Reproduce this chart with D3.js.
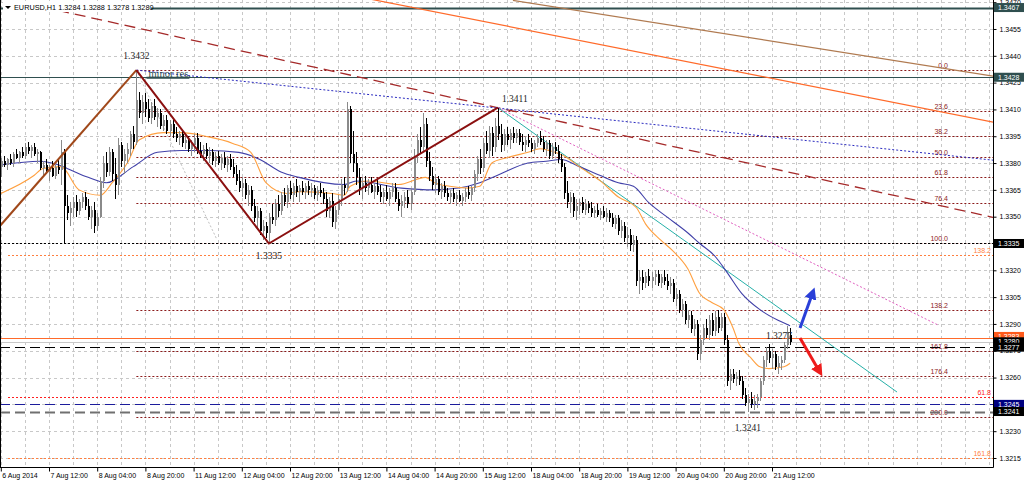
<!DOCTYPE html>
<html><head><meta charset="utf-8">
<script src="https://cdn.jsdelivr.net/npm/d3@7"></script>
<style>body{margin:0;background:#fff;overflow:hidden}svg{display:block}</style>
</head><body>
<svg id="c" width="1024" height="482"></svg>
<script>
// ---------------- DATA ----------------
const headerText = "EURUSD,H1  1.3284 1.3288 1.3278 1.3280";
const pipBase = 1.3; // candle values are pips above 1.3000
const xTickBars = [0,16,32,48,64,80,96,112,128,144,160,176,192,208,224,240,256];
const xTickLabels = ["6 Aug 2014","7 Aug 12:00","8 Aug 04:00","8 Aug 20:00","11 Aug 12:00","12 Aug 04:00","12 Aug 20:00","13 Aug 12:00","14 Aug 04:00","14 Aug 20:00","15 Aug 12:00","18 Aug 04:00","18 Aug 20:00","19 Aug 12:00","20 Aug 04:00","20 Aug 20:00","21 Aug 12:00"];
const yTicks = [1.3215,1.3230,1.3245,1.3260,1.3275,1.3290,1.3305,1.3320,1.3335,1.3350,1.3365,1.3380,1.3395,1.3410,1.3425,1.3440,1.3455,1.3470];
// [open, high, low, close] in pips, hourly bars from 6 Aug 20:00
const candles = [
[378,383,372,381],[381,384,378,379],[379,383,376,382],[382,385,379,380],[380,386,378,385],[385,388,382,383],[383,387,380,386],[386,389,383,384],[384,391,382,389],[389,392,385,387],
[387,390,383,389],[389,391,384,385],[385,388,380,386],[386,387,376,377],[377,381,372,379],[379,382,374,375],[375,379,370,377],[377,381,372,373],[373,379,371,378],[378,382,374,376],
[376,393,368,386],[386,388,335,356],[356,362,348,352],[352,358,345,355],[355,361,350,358],[358,362,350,353],[353,360,351,358],[358,363,355,361],[361,364,354,356],[356,360,348,350],
[350,356,343,354],[354,358,341,345],[345,352,342,350],[350,372,349,370],[370,384,366,380],[380,386,372,375],[375,389,373,386],[386,388,370,374],[374,383,360,368],[368,394,362,390],
[390,392,378,381],[381,388,374,385],[385,391,380,388],[388,398,384,396],[396,401,388,392],[392,432,390,415],[415,420,405,408],[408,418,402,414],[414,419,406,410],[410,416,403,405],
[405,414,402,412],[412,416,404,406],[406,411,400,408],[408,410,399,401],[401,407,398,404],[404,407,396,398],[398,404,395,402],[402,404,394,396],[396,400,392,394],[394,398,390,396],
[396,398,389,391],[391,396,388,393],[393,395,386,388],[388,393,384,390],[390,396,386,394],[394,397,385,387],[387,392,383,385],[385,390,381,388],[388,391,382,384],[384,389,380,386],
[386,388,379,381],[381,386,378,384],[384,387,379,380],[380,385,376,383],[383,386,377,379],[379,384,375,382],[382,385,376,378],[378,382,372,374],[374,379,368,370],[370,376,364,366],
[366,372,361,369],[369,371,360,362],[362,368,356,365],[365,367,353,356],[356,360,347,349],[349,356,343,353],[353,355,340,342],[342,348,337,345],[345,347,338,341],[341,352,335,350],
[350,357,346,348],[348,360,345,357],[357,362,350,353],[353,364,351,362],[362,366,356,358],[358,368,355,366],[366,370,360,362],[362,369,358,367],[367,371,361,364],[364,368,358,366],
[366,370,362,364],[364,369,360,367],[367,370,362,365],[365,369,361,366],[366,368,360,362],[362,367,359,365],[365,369,361,363],[363,366,357,360],[360,364,350,353],[353,361,349,359],
[359,363,344,347],[347,356,343,354],[354,362,351,360],[360,371,356,368],[368,372,362,366],[366,414,364,410],[410,412,380,385],[385,398,375,380],[380,386,368,372],[372,377,362,366],
[366,372,360,369],[369,373,364,366],[366,371,362,368],[368,372,363,364],[364,369,360,367],[367,371,362,364],[364,368,358,361],[361,366,357,364],[364,368,359,360],[360,366,356,364],
[364,369,361,366],[366,369,358,360],[360,364,353,356],[356,362,350,359],[359,364,355,361],[361,365,355,357],[357,366,354,364],[364,388,362,384],[384,396,380,393],[393,400,385,389],
[389,408,386,402],[402,405,378,381],[381,386,370,373],[373,378,365,368],[368,374,363,371],[371,373,362,364],[364,369,360,367],[367,370,361,363],[363,366,359,361],[361,365,357,363],
[363,366,358,360],[360,364,356,362],[362,365,358,359],[359,363,356,361],[361,366,358,364],[364,367,360,362],[362,367,359,366],[366,376,364,374],[374,384,370,382],[382,388,374,377],
[377,394,375,391],[391,398,385,387],[387,401,383,397],[397,400,384,389],[389,405,386,401],[401,411,393,396],[396,402,386,390],[390,399,387,396],[396,400,390,393],[393,399,388,397],
[397,400,391,394],[394,399,391,397],[397,399,390,392],[392,396,387,390],[390,395,386,393],[393,396,389,391],[391,394,386,388],[388,393,385,391],[391,396,389,394],[394,398,390,392],
[392,395,386,388],[388,393,384,391],[391,393,382,384],[384,391,382,389],[389,392,385,387],[387,390,380,382],[382,385,375,378],[378,380,360,363],[363,370,355,358],[358,364,352,361],
[361,363,350,353],[353,360,348,356],[356,360,351,358],[358,361,352,354],[354,360,351,357],[357,359,352,355],[355,358,350,352],[352,356,349,354],[354,357,350,351],[351,355,348,353],
[353,356,349,350],[350,355,347,352],[352,354,347,349],[349,352,344,346],[346,351,343,349],[349,351,340,342],[342,348,338,345],[345,347,336,338],[338,344,333,340],[340,343,331,334],
[334,340,330,337],[337,339,311,314],[314,320,307,316],[316,320,309,313],[313,319,310,317],[317,321,311,314],[314,319,310,316],[316,320,312,318],[318,320,311,313],[313,318,310,316],
[316,320,312,314],[314,318,309,311],[311,316,307,313],[313,315,302,304],[304,310,300,307],[307,309,296,298],[298,304,294,301],[301,303,290,292],[292,298,288,295],[295,297,285,287],
[287,293,283,290],[290,292,270,273],[273,284,270,281],[281,290,278,288],[288,293,282,284],[284,295,281,292],[292,296,283,286],[286,297,283,294],[294,298,285,288],[288,296,286,294],
[294,296,278,281],[281,284,255,258],[258,265,253,262],[262,265,257,259],[259,263,255,261],[261,264,256,258],[258,261,248,250],[250,254,244,246],[246,251,241,248],[248,252,243,245],
[245,250,242,247],[247,251,243,249],[249,260,247,258],[258,272,256,270],[270,277,266,275],[275,279,268,271],[271,276,265,273],[273,275,264,266],[266,272,262,268],[268,272,264,270],
[270,280,268,278],[278,289,276,285],[284,288,278,280]
];
// moving averages (bar index, pips)
const maFastBars = [0,11,14,20,26,33,37,42,46,54,60,68,77,83,88,95,99,110,114,116,122,132,141,144,149,155,159,163,168,175,179,182,188,192,199,205,211,214,219,223,228,232,236,240,243,245,249,252,255,260,262];
const maFastPips = [363,373,377,378,365,362,369,380,393,397,397,395,391,386,369,363,364,363,362,367,370,368,372,369,367,366,367,380,383,386,388,387,383,378,370,361,355,346,337,331,321,307,302,298,288,279,271,266,265,266,268];
const maSlowBars = [0,13,19,22,29,35,44,52,60,69,79,86,93,99,114,118,133,144,152,159,166,175,181,186,192,199,205,210,215,221,228,232,237,241,246,252,258,262];
const maSlowPips = [379,381,379,377,372,369,378,386,387,387,386,382,375,372,368,370,366,365,366,369,374,380,381,382,378,373,369,367,358,350,341,335,328,319,307,298,292,289];
// zigzag (bar, pips)
const zigzagBars = [-0.3,45,89,165];
const zigzagPips = [344.8,432,335,411];
// fibonacci retracement 1.3432 -> 1.3335
const fibHigh = 1.3432, fibLow = 1.3335, fibStartBar = 45;
const fibLevels = [0,23.6,38.2,50,61.8,76.4,100,138.2,161.8,176.4,200];
// other fib levels (full width)
const fib2Prices = [1.33286,1.32491,1.3215];
const fib2Labels = ["138.2","61.8","161.8"];
// horizontal lines
const hLinePrices = [1.3467,1.3428,1.3335,1.3282,1.3280,1.3277,1.3245,1.3241];
// trend lines: [bar1, pips1, bar2, pips2]
const trendDashedBrown = [8,469.5,330,349.4];
const trendBlueDotted = [45,432,330,381.5];
const trendOrange = [120,472.6,330,402.7];
const trendTan = [170,471,330,428.5];
const trendTeal = [165,411,297.5,251.9];
const trendPinkDotted = [165,411,311.1,289.4];
const trendGreyDotted = [45,432,71.8,337];
// arrows [bar1,pips1,bar2,pips2]
const arrowUp = [265.3,287.7,269.6,307.9];
const arrowDown = [265.3,282.1,271.9,263];
// text annotations
const noteTexts = ["1.3432","1.3335","1.3411","1.3277","1.3241","minor res."];
const noteBars = [45,89,165,254,248,48];
const notePips = [432,335,411,277,241,428];
// right-side price boxes
const boxPrices = [1.3467,1.3428,1.3335,1.3283,1.3280,1.3277,1.3245,1.3241];

// ---------------- DRAW ----------------
const svg = d3.select("#c");
const R = 993, B = 467;
const x = d3.scaleLinear().domain([0,329.36]).range([0.8,R]);
const y = d3.scaleLinear().domain([1.320996,1.347122]).range([B,0]);
const pp = p => pipBase + p/10000;
const yp = p => y(pp(p));
const FONT = "'Liberation Sans', Arial, sans-serif";

svg.append("rect").attr("width",1024).attr("height",482).attr("fill","#fff");
const defs = svg.append("defs");
defs.append("clipPath").attr("id","clip").append("rect").attr("x",0).attr("y",0).attr("width",R).attr("height",B);
function marker(id,color){
  defs.append("marker").attr("id",id).attr("viewBox","0 0 10 10").attr("refX",6).attr("refY",5)
    .attr("markerWidth",4).attr("markerHeight",4).attr("orient","auto")
    .append("path").attr("d","M0,0 L10,5 L0,10 z").attr("fill",color);
}
marker("mBlue","#2a3fd8"); marker("mRed","#ee1c1c");

const plot = svg.append("g").attr("clip-path","url(#clip)");

// grid
const grid = plot.append("g").attr("stroke","#c8c8c8").attr("stroke-width",1).attr("stroke-dasharray","3,3").attr("shape-rendering","crispEdges");
grid.selectAll(".gh").data(yTicks).join("line").attr("x1",0).attr("x2",R)
  .attr("y1",d=>Math.round(y(d))+0.5).attr("y2",d=>Math.round(y(d))+0.5);
grid.selectAll(".gv").data(d3.range(0,330,8)).join("line").attr("y1",0).attr("y2",B)
  .attr("x1",d=>Math.round(x(d))+0.5).attr("x2",d=>Math.round(x(d))+0.5);

function hline(g,price,x1,color,width,dash){
  const yy = Math.round(y(price))+0.5;
  g.append("line").attr("x1",x1).attr("x2",R).attr("y1",yy).attr("y2",yy)
   .attr("stroke",color).attr("stroke-width",width).attr("stroke-dasharray",dash||null);
}
const lines = plot.append("g");
// fib 1
fibLevels.forEach(l=>{
  const price = fibHigh - (fibHigh-fibLow)*l/100;
  hline(lines,price,x(fibStartBar),"#8b1a1a",1,"2,2");
  lines.append("text").attr("x",948).attr("y",Math.round(y(price))-2).attr("text-anchor","end")
    .attr("font-family",FONT).attr("font-size",7).attr("fill","#8b1a1a").text(d3.format(".1f")(l));
});
// fib 2
const fib2Colors = ["#ff7f3f","#ff2020","#ff7f3f"];
fib2Prices.forEach((p,i)=>{
  hline(lines,p,8,fib2Colors[i],1,"2,2");
  lines.append("text").attr("x",991).attr("y",Math.round(y(p))-2).attr("text-anchor","end")
    .attr("font-family",FONT).attr("font-size",7).attr("fill",fib2Colors[i]).text(fib2Labels[i]);
});
// horizontal lines
const hStyles = [["#2f4f4f",2,null],["#2f4f4f",1,null],["#000",1,"2,2"],["#ff6a2a",1,null],["#c8c8c8",1,null],["#000",1,"10,5"],["#1c1c9c",1,"10,5"],["#707070",2,"10,5"]];
hLinePrices.forEach((p,i)=>hline(lines,p,0,hStyles[i][0],hStyles[i][1],hStyles[i][2]));

// trend lines
function tline(t,color,width,dash){
  lines.append("line").attr("x1",x(t[0])).attr("y1",yp(t[1])).attr("x2",x(t[2])).attr("y2",yp(t[3]))
    .attr("stroke",color).attr("stroke-width",width).attr("stroke-dasharray",dash||null);
}
tline(trendTan,"#b07a50",1.2);
tline(trendOrange,"#ff6a2a",1.2);
tline(trendDashedBrown,"#a52a2a",1.3,"11,6");
tline(trendBlueDotted,"#2b2bc0",1,"2,2");
tline(trendGreyDotted,"#c0c0c0",1,"2,2");

// moving averages
const lineGen = d3.line().x(d=>x(d[0])).y(d=>yp(d[1])).curve(d3.curveMonotoneX);
plot.append("path").datum(maSlowBars.map((b,i)=>[b,maSlowPips[i]])).attr("d",lineGen)
  .attr("fill","none").attr("stroke","#4040a8").attr("stroke-width",1.1);
plot.append("path").datum(maFastBars.map((b,i)=>[b,maFastPips[i]])).attr("d",lineGen)
  .attr("fill","none").attr("stroke","#ffa040").attr("stroke-width",1.1);

// candles
const cg = plot.append("g").attr("shape-rendering","crispEdges");
candles.forEach((c,i)=>{
  const [o,h,l,cl] = c;
  const bull = cl>=o;
  const col = bull ? "#8a8a8a" : "#000";
  const xc = Math.round(x(i));
  cg.append("line").attr("x1",xc+0.5).attr("x2",xc+0.5).attr("y1",yp(h)).attr("y2",yp(l)).attr("stroke",col);
  const top = yp(Math.max(o,cl)), bot = yp(Math.min(o,cl));
  cg.append("rect").attr("x",xc-0).attr("y",top).attr("width",2).attr("height",Math.max(1,bot-top)).attr("fill",col);
});

// trend lines above candles
tline(trendTeal,"#26b0a8",1);
tline(trendPinkDotted,"#e060c0",1,"2,2");

// zigzag
const zz = zigzagBars.map((b,i)=>[x(b),yp(zigzagPips[i])]);
plot.append("line").attr("x1",zz[0][0]).attr("y1",zz[0][1]).attr("x2",zz[1][0]).attr("y2",zz[1][1])
  .attr("stroke","#a0481a").attr("stroke-width",2);
plot.append("path").attr("d",d3.line()(zz.slice(1))).attr("fill","none").attr("stroke","#8b1010").attr("stroke-width",2);

// arrows
function arrow(a,color,m){
  plot.append("line").attr("x1",x(a[0])).attr("y1",yp(a[1])).attr("x2",x(a[2])).attr("y2",yp(a[3]))
    .attr("stroke",color).attr("stroke-width",3).attr("marker-end",`url(#${m})`);
}
arrow(arrowUp,"#2a3fd8","mBlue");
arrow(arrowDown,"#ee1c1c","mRed");

// annotations
const noteOff = [[0,-11],[0,16],[17,-6],[13,-8],[0,19]];
noteTexts.forEach((t,i)=>{
  if(i===5){
    plot.append("line").attr("x1",x(noteBars[i])+1).attr("x2",x(noteBars[i])+44).attr("y1",yp(notePips[i])+0.5).attr("y2",yp(notePips[i])+0.5)
      .attr("stroke","#2f4f4f").attr("stroke-width",2);
    plot.append("text").attr("x",x(noteBars[i])+3).attr("y",yp(notePips[i])).attr("font-family","'Liberation Serif',serif")
      .attr("font-size",10.5).attr("fill","#2f4f4f").text(t);
    return;
  }
  plot.append("text").attr("x",x(noteBars[i])+noteOff[i][0]).attr("y",yp(notePips[i])+noteOff[i][1])
    .attr("text-anchor","middle").attr("font-family","'Liberation Serif',serif").attr("font-size",9.5).attr("fill","#222").text(t);
});

// frame
svg.append("line").attr("x1",0.5).attr("x2",0.5).attr("y1",0).attr("y2",B).attr("stroke","#000");
svg.append("line").attr("x1",0).attr("x2",R+0.5).attr("y1",B+0.5).attr("y2",B+0.5).attr("stroke","#000");
svg.append("line").attr("x1",R+0.5).attr("x2",R+0.5).attr("y1",0).attr("y2",B+0.5).attr("stroke","#000");

// axes
const yAxis = svg.append("g").attr("transform",`translate(${R+0.5},0)`)
  .call(d3.axisRight(y).tickValues(yTicks).tickSize(3).tickPadding(3).tickFormat(d3.format(".4f")));
const xAxis = svg.append("g").attr("transform",`translate(0,${B+0.5})`)
  .call(d3.axisBottom(x).tickValues(xTickBars).tickSize(4).tickPadding(2).tickFormat((d,i)=>xTickLabels[i]));
[yAxis,xAxis].forEach(a=>{a.select(".domain").remove(); a.selectAll("text").attr("font-family",FONT).attr("font-size",7).attr("fill","#000"); a.selectAll("line").attr("stroke","#000");});
xAxis.selectAll("text").attr("text-anchor","start").attr("dx",1);

// right price boxes
const boxColors = ["#2f4f4f","#2f4f4f","#000","#ff5a1a","#000","#000","#000080","#000"];
boxPrices.forEach((p,i)=>{
  const yy = y(p);
  svg.append("rect").attr("x",R+1).attr("y",yy-4.5).attr("width",30).attr("height",9).attr("fill",boxColors[i]);
  svg.append("text").attr("x",R+5).attr("y",yy+2.6).attr("font-family",FONT).attr("font-size",7).attr("fill","#fff").text(d3.format(".4f")(p));
});

// header
svg.append("rect").attr("x",3).attr("y",1).attr("width",148).attr("height",11).attr("fill","#fff");
svg.append("path").attr("d","M5,6 L11,6 L8,9 z").attr("fill","#000");
svg.append("text").attr("x",14).attr("y",10).attr("font-family",FONT).attr("font-size",7.3).attr("fill","#000").text(headerText);
</script>
</body></html>
